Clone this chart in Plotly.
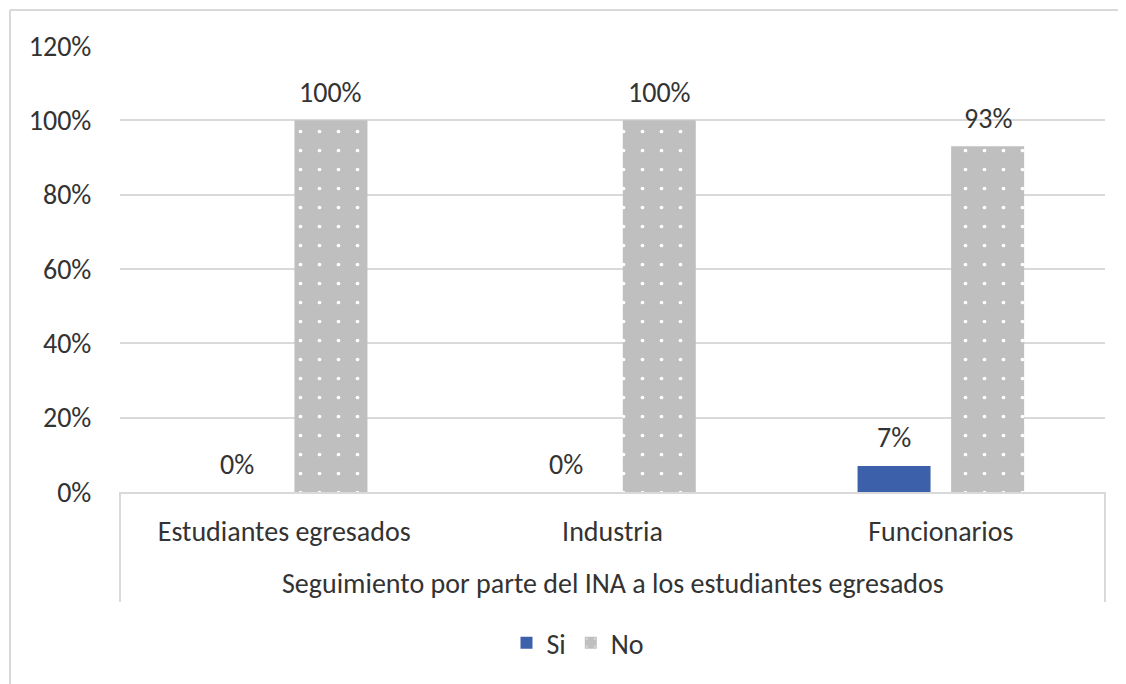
import plotly.graph_objects as go

categories = ["Estudiantes egresados", "Industria", "Funcionarios"]
axis_title = "Seguimiento por parte del INA a los estudiantes egresados"
series_names = ["Si", "No"]
si_values = [0.0, 0.0, 0.07]
no_values = [1.0, 1.0, 0.93]
y_ticks = [0, 0.2, 0.4, 0.6, 0.8, 1.0, 1.2]

OFF = 8  # browser body margin
W, H = 1126 - OFF, 684 - OFF
ML, MR, MT = 120 - OFF, 21, 46 - OFF
PW, PH = 985, 446
MB = H - MT - PH
BARGAP, BARGROUPGAP = 0.43, 0.22

FONT = "Carlito, Lato, sans-serif"
FS = 28
TXT = "#333333"
GRID = "#d9d9d9"
BLUE = "#3c61aa"
GRAY = "#bfbfbf"

fig = go.Figure()
fig.add_trace(go.Bar(name=series_names[0], x=categories, y=si_values,
                     marker=dict(color=BLUE, line=dict(width=0))))
fig.add_trace(go.Bar(name=series_names[1], x=categories, y=no_values,
                     marker=dict(color=GRAY, line=dict(width=0),
                                 pattern=dict(shape=".", fgcolor="white", bgcolor=GRAY,
                                              size=19, solidity=0.03, fillmode="replace"))))

# data labels
cat_px = PW / len(categories)
slot_px = cat_px * (1 - BARGAP) / 2
anns = []
for k, vals in enumerate([si_values, no_values]):
    shift = (k - 0.5) * slot_px
    for c, v in zip(categories, vals):
        anns.append(dict(x=c, y=v, xref="x", yref="y", text=f"{v:.0%}", showarrow=False,
                         xshift=shift, yshift=28, yanchor="middle",
                         font=dict(family=FONT, size=FS, color=TXT)))
anns.append(dict(x=0.5, y=-(583 - 492) / PH, xref="paper", yref="paper", text=axis_title,
                 showarrow=False, yanchor="middle", font=dict(family=FONT, size=FS, color=TXT)))

border_x = (10 - 120) / PW
border_y = (492 - 10) / PH
shapes = [
    dict(type="line", xref="paper", yref="paper", x0=0, x1=0, y0=0, y1=-(602 - 492) / PH,
         line=dict(color=GRID, width=2)),
    dict(type="line", xref="paper", yref="paper", x0=1, x1=1, y0=0, y1=-(602 - 492) / PH,
         line=dict(color=GRID, width=2)),
    dict(type="line", xref="paper", yref="paper", x0=border_x, x1=(1130 - 120) / PW,
         y0=border_y, y1=border_y, line=dict(color=GRID, width=2)),
    dict(type="line", xref="paper", yref="paper", x0=border_x, x1=border_x,
         y0=border_y, y1=-(700 - 492) / PH, line=dict(color=GRID, width=2)),
]

fig.update_layout(
    width=W, height=H, margin=dict(l=ML, r=MR, t=MT, b=MB),
    paper_bgcolor="white", plot_bgcolor="white",
    barmode="group", bargap=BARGAP, bargroupgap=BARGROUPGAP,
    font=dict(family=FONT, size=FS, color=TXT),
    showlegend=True,
    legend=dict(orientation="h", x=(578 - 120) / PW, xanchor="center",
                y=-(643 - 492) / PH, yanchor="middle",
                font=dict(family=FONT, size=FS, color=TXT), itemwidth=30),
    annotations=anns, shapes=shapes,
    xaxis=dict(showline=True, linecolor=GRID, linewidth=2, showgrid=False,
               ticks="outside", ticklen=13, tickcolor="rgba(0,0,0,0)",
               tickfont=dict(family=FONT, size=FS, color=TXT)),
    yaxis=dict(range=[0, 1.2], tickvals=y_ticks, tickformat=".0%", showgrid=True,
               gridcolor=GRID, gridwidth=2, zeroline=False, showline=False,
               ticks="outside", ticklen=22, tickcolor="rgba(0,0,0,0)",
               tickfont=dict(family=FONT, size=FS, color=TXT)),
)

fig.write_html("out.html")
